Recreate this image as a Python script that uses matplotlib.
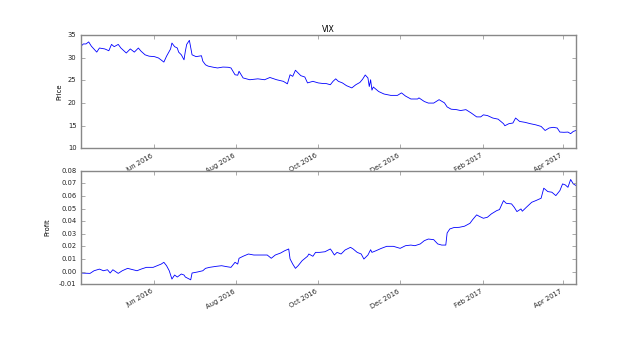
import pandas as pd
import matplotlib
matplotlib.use('Agg')
import matplotlib.pyplot as plt
import matplotlib.dates as mdates


price_dates = [
    '2016-04-07', '2016-04-09', '2016-04-11', '2016-04-13', '2016-04-15', '2016-04-19',
    '2016-04-21', '2016-04-25', '2016-04-28', '2016-04-30', '2016-05-02', '2016-05-05',
    '2016-05-07', '2016-05-11', '2016-05-14', '2016-05-17', '2016-05-20', '2016-05-22',
    '2016-05-25', '2016-05-28', '2016-06-01', '2016-06-04', '2016-06-08', '2016-06-10',
    '2016-06-13', '2016-06-14', '2016-06-16', '2016-06-18', '2016-06-19', '2016-06-21',
    '2016-06-23', '2016-06-24', '2016-06-25', '2016-06-27', '2016-06-29', '2016-07-02',
    '2016-07-04', '2016-07-06', '2016-07-07', '2016-07-09', '2016-07-11', '2016-07-15',
    '2016-07-18', '2016-07-22', '2016-07-26', '2016-07-28', '2016-07-31', '2016-08-02',
    '2016-08-03', '2016-08-06', '2016-08-11', '2016-08-17', '2016-08-22', '2016-08-26',
    '2016-08-31', '2016-09-05', '2016-09-08', '2016-09-10', '2016-09-12', '2016-09-14',
    '2016-09-16', '2016-09-18', '2016-09-21', '2016-09-23', '2016-09-27', '2016-10-01',
    '2016-10-05', '2016-10-07', '2016-10-10', '2016-10-12', '2016-10-14', '2016-10-16',
    '2016-10-19', '2016-10-22', '2016-10-26', '2016-10-29', '2016-11-01', '2016-11-03',
    '2016-11-05', '2016-11-07', '2016-11-08', '2016-11-09', '2016-11-10', '2016-11-11',
    '2016-11-15', '2016-11-19', '2016-11-24', '2016-11-29', '2016-12-02', '2016-12-05',
    '2016-12-09', '2016-12-14', '2016-12-15', '2016-12-19', '2016-12-22', '2016-12-26',
    '2016-12-30', '2017-01-03', '2017-01-05', '2017-01-08', '2017-01-12', '2017-01-15',
    '2017-01-19', '2017-01-23', '2017-01-27', '2017-01-30', '2017-02-01', '2017-02-04',
    '2017-02-08', '2017-02-12', '2017-02-16', '2017-02-17', '2017-02-20', '2017-02-23',
    '2017-02-25', '2017-02-28', '2017-03-04', '2017-03-08', '2017-03-12', '2017-03-16',
    '2017-03-19', '2017-03-22', '2017-03-25', '2017-03-28', '2017-03-30', '2017-04-02',
    '2017-04-05', '2017-04-07', '2017-04-09', '2017-04-11',
]
price_values = [
    32.4, 33.0, 33.0, 33.45, 32.5, 31.2,
    32.1, 31.9, 31.5, 32.9, 32.4, 32.9,
    32.1, 31.0, 31.9, 31.2, 32.1, 31.4,
    30.6, 30.3, 30.2, 29.9, 29.0, 30.3,
    31.9, 33.2, 32.4, 32.1, 31.2, 30.6,
    29.5, 31.4, 32.9, 33.8, 30.6, 30.2,
    30.3, 30.4, 29.2, 28.4, 28.1, 27.85,
    27.7, 27.9, 27.85, 27.7, 26.2, 26.1,
    26.97, 25.5, 25.1, 25.3, 25.1, 25.6,
    25.1, 24.75, 24.2, 26.2, 25.85, 27.2,
    26.6, 26.0, 25.7, 24.4, 24.75, 24.4,
    24.25, 24.25, 24.0, 24.75, 25.3, 24.75,
    24.4, 23.8, 23.3, 24.0, 24.5, 25.2,
    26.15, 25.5, 23.6, 25.1, 22.8, 23.5,
    22.5, 21.95, 21.65, 21.65, 22.2, 21.5,
    20.85, 20.85, 21.1, 20.3, 19.95, 19.95,
    20.7, 20.0, 19.1, 18.6, 18.5, 18.3,
    18.5, 17.75, 16.9, 16.9, 17.35, 17.2,
    16.65, 16.4, 15.4, 14.95, 15.4, 15.55,
    16.65, 15.9, 15.7, 15.4, 15.15, 14.8,
    13.9, 14.45, 14.6, 14.45, 13.55, 13.5,
    13.55, 13.2, 13.7, 13.9,
]

profit_dates = [
    '2016-04-07', '2016-04-14', '2016-04-17', '2016-04-21', '2016-04-24', '2016-04-27',
    '2016-04-29', '2016-05-01', '2016-05-05', '2016-05-08', '2016-05-12', '2016-05-16',
    '2016-05-19', '2016-05-22', '2016-05-26', '2016-05-31', '2016-06-03', '2016-06-06',
    '2016-06-08', '2016-06-10', '2016-06-12', '2016-06-14', '2016-06-16', '2016-06-18',
    '2016-06-21', '2016-06-23', '2016-06-24', '2016-06-28', '2016-06-29', '2016-07-03',
    '2016-07-07', '2016-07-09', '2016-07-12', '2016-07-17', '2016-07-21', '2016-07-25',
    '2016-07-28', '2016-07-31', '2016-08-02', '2016-08-03', '2016-08-06', '2016-08-10',
    '2016-08-14', '2016-08-19', '2016-08-24', '2016-08-27', '2016-08-30', '2016-09-03',
    '2016-09-06', '2016-09-09', '2016-09-10', '2016-09-12', '2016-09-14', '2016-09-16',
    '2016-09-19', '2016-09-23', '2016-09-24', '2016-09-27', '2016-09-29', '2016-10-02',
    '2016-10-06', '2016-10-10', '2016-10-11', '2016-10-13', '2016-10-15', '2016-10-18',
    '2016-10-21', '2016-10-25', '2016-10-27', '2016-10-30', '2016-11-02', '2016-11-04',
    '2016-11-07', '2016-11-09', '2016-11-10', '2016-11-13', '2016-11-17', '2016-11-21',
    '2016-11-26', '2016-12-01', '2016-12-05', '2016-12-09', '2016-12-12', '2016-12-16',
    '2016-12-19', '2016-12-22', '2016-12-26', '2016-12-29', '2017-01-01', '2017-01-04',
    '2017-01-05', '2017-01-07', '2017-01-10', '2017-01-14', '2017-01-18', '2017-01-22',
    '2017-01-24', '2017-01-27', '2017-01-29', '2017-02-01', '2017-02-04', '2017-02-07',
    '2017-02-11', '2017-02-13', '2017-02-16', '2017-02-18', '2017-02-22', '2017-02-24',
    '2017-02-26', '2017-03-01', '2017-03-02', '2017-03-05', '2017-03-09', '2017-03-12',
    '2017-03-16', '2017-03-18', '2017-03-21', '2017-03-24', '2017-03-27', '2017-03-30',
    '2017-04-01', '2017-04-03', '2017-04-05', '2017-04-07', '2017-04-09', '2017-04-11',
]
profit_values = [
    -0.0012, -0.0015, 0.0006, 0.0019, 0.0006, 0.0014,
    -0.0012, 0.0014, -0.0015, 0.0006, 0.0025, 0.0014,
    0.0006, 0.0019, 0.0033, 0.0033, 0.0046, 0.0059,
    0.0073, 0.0046, 0.0006, -0.0060, -0.0028, -0.0044,
    -0.0020, -0.0028, -0.0044, -0.0066, -0.0012, -0.0004,
    0.0006, 0.0025, 0.0033, 0.0041, 0.0046, 0.0038,
    0.0033, 0.0073, 0.0059, 0.0105, 0.0121, 0.0139,
    0.0131, 0.0131, 0.0131, 0.0105, 0.0131, 0.0147,
    0.0165, 0.0179, 0.0100, 0.0059, 0.0025, 0.0046,
    0.0086, 0.0121, 0.0139, 0.0121, 0.0152, 0.0152,
    0.0157, 0.0179, 0.0165, 0.0131, 0.0152, 0.0139,
    0.0171, 0.0192, 0.0179, 0.0152, 0.0139, 0.0099,
    0.0131, 0.0173, 0.0152, 0.0165, 0.0184, 0.0200,
    0.0200, 0.0184, 0.0205, 0.0210, 0.0205, 0.0219,
    0.0245, 0.0258, 0.0253, 0.0219, 0.0210, 0.0210,
    0.0306, 0.0338, 0.0349, 0.0351, 0.0360, 0.0383,
    0.0412, 0.0450, 0.0438, 0.0423, 0.0431, 0.0458,
    0.0484, 0.0492, 0.0563, 0.0542, 0.0537, 0.0510,
    0.0476, 0.0497, 0.0479, 0.0510, 0.0550, 0.0563,
    0.0582, 0.0662, 0.0635, 0.0630, 0.0603, 0.0643,
    0.0696, 0.0688, 0.0669, 0.0731, 0.0696, 0.0683,
]


def style_date_axis(ax, start, end):
    ax.set_xlim(start, end)
    ax.xaxis.set_major_locator(mdates.MonthLocator(bymonth=[2, 4, 6, 8, 10, 12]))
    ax.xaxis.set_major_formatter(mdates.DateFormatter('%b %Y'))
    for label in ax.get_xticklabels():
        label.set_rotation(30)
        label.set_ha('right')


def plot_vix(price_x, price_y, profit_x, profit_y):
    plt.style.use('classic')
    plt.rcParams['font.size'] = 4.9
    plt.rcParams['font.family'] = ['DejaVu Sans']

    fig, (ax1, ax2) = plt.subplots(2, 1, figsize=(6.4, 3.56), dpi=100)
    fig.set_facecolor('white')
    fig.subplots_adjust(left=0.126, right=0.9, top=0.902, bottom=0.202, hspace=0.2)

    start = min(price_x[0], profit_x[0])
    end = max(price_x[-1], profit_x[-1])

    ax1.plot(price_x, price_y, color='b', lw=0.6)
    ax1.set_ylim(10, 35)
    ax1.set_yticks(range(10, 36, 5))
    ax1.set_title('VIX', fontsize=5.6, pad=2)
    ax1.set_ylabel('Price')
    ax1.yaxis.set_label_coords(-0.036, 0.5)
    style_date_axis(ax1, start, end)

    ax2.plot(profit_x, profit_y, color='b', lw=0.6)
    ax2.set_ylim(-0.01, 0.08)
    ax2.set_yticks([i / 100 for i in range(-1, 9)])
    ax2.yaxis.set_major_formatter(plt.FormatStrFormatter('%.2f'))
    ax2.set_ylabel('Profit')
    ax2.yaxis.set_label_coords(-0.061, 0.5)
    style_date_axis(ax2, start, end)

    for ax in (ax1, ax2):
        for spine in ax.spines.values():
            spine.set_edgecolor('#888888')
        ax.tick_params(colors='#888888', labelcolor='#222222', length=3, pad=3)

    fig.savefig('out.png', dpi=100, facecolor='white')


if __name__ == '__main__':
    plot_vix(pd.to_datetime(price_dates), price_values,
             pd.to_datetime(profit_dates), profit_values)
